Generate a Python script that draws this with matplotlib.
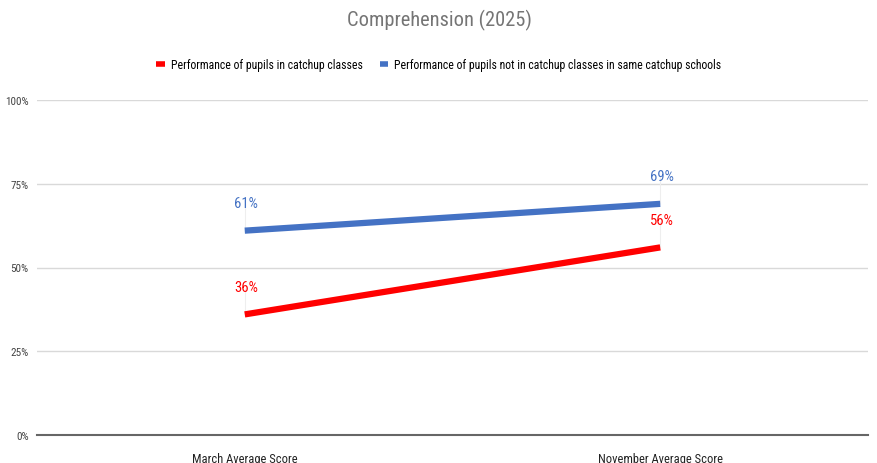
import matplotlib
matplotlib.use("Agg")
import matplotlib.pyplot as plt
from matplotlib import font_manager as fm

names = {f.name for f in fm.fontManager.ttflist}
narrow = None
for cand in ["Liberation Sans Narrow", "Roboto Condensed", "Open Sans Condensed", "Noto Sans Condensed"]:
    if cand in names:
        narrow = cand
        break
if narrow:
    fam = narrow
    k = 1.0
else:
    fam = "Open Sans" if "Open Sans" in names else "Liberation Sans"
    k = 0.8
plt.rcParams['font.family'] = [fam, 'DejaVu Sans']

categories = ["March Average Score", "November Average Score"]
series_names = ["Performance of pupils in catchup classes",
                "Performance of pupils not in catchup classes in same catchup schools"]
catchup = [36, 56]
not_catchup = [61, 69]
yticks = [0, 25, 50, 75, 100]
title = "Comprehension (2025)"

colors = ["#ff0000", "#4472c4"]

fig = plt.figure(figsize=(8.78, 4.64), dpi=100)
W, H = 878, 464
ax = fig.add_axes([37 / W, 1 - 436 / H, (868 - 37) / W, (436 - 101) / H])

x = list(range(len(categories)))
for vals, c, lbl in [(catchup, colors[0], series_names[0]), (not_catchup, colors[1], series_names[1])]:
    ax.plot(x, vals, color=c, lw=4.5, solid_capstyle='butt', label=lbl, zorder=3)
    for xi, v in zip(x, vals):
        ax.vlines(xi, v, v + 8, color="#eeeeee", lw=0.8, zorder=1)
        ax.annotate(f"{v}%", (xi, v), xytext=(1, 15), textcoords="offset points",
                    ha="center", va="bottom", color=c, fontsize=10.5 * k, zorder=4)

ax.set_xlim(-0.5, len(categories) - 0.5)
ax.set_ylim(0, 100)
ax.set_yticks(yticks)
ax.set_yticklabels([f"{t}%" for t in yticks], fontsize=8 * k, color="#444444")
ax.set_xticks(x)
ax.set_xticklabels(categories, fontsize=9 * k, color="#222222")
ax.tick_params(axis='y', length=0, pad=6)
ax.tick_params(axis='x', length=0, pad=12)
ax.grid(axis='y', color="#d9d9d9", lw=1)
for s in ["top", "right", "left"]:
    ax.spines[s].set_visible(False)
ax.spines["bottom"].set_color("#666666")
ax.spines["bottom"].set_linewidth(1.5)
ax.set_axisbelow(True)

fig.text(0.5, 1 - 20 / H, title, ha="center", va="center", fontsize=14.7 * k, color="#757575")
handles, labels = ax.get_legend_handles_labels()
leg = fig.legend(handles, labels, loc="center", bbox_to_anchor=(0.5, 1 - 66 / H), ncol=2,
                 frameon=False, fontsize=8.5 * k, handlelength=0.7, handletextpad=0.5,
                 columnspacing=1.5)
for line in leg.get_lines():
    line.set_linewidth(4)

fig.savefig("out.png", dpi=100)
